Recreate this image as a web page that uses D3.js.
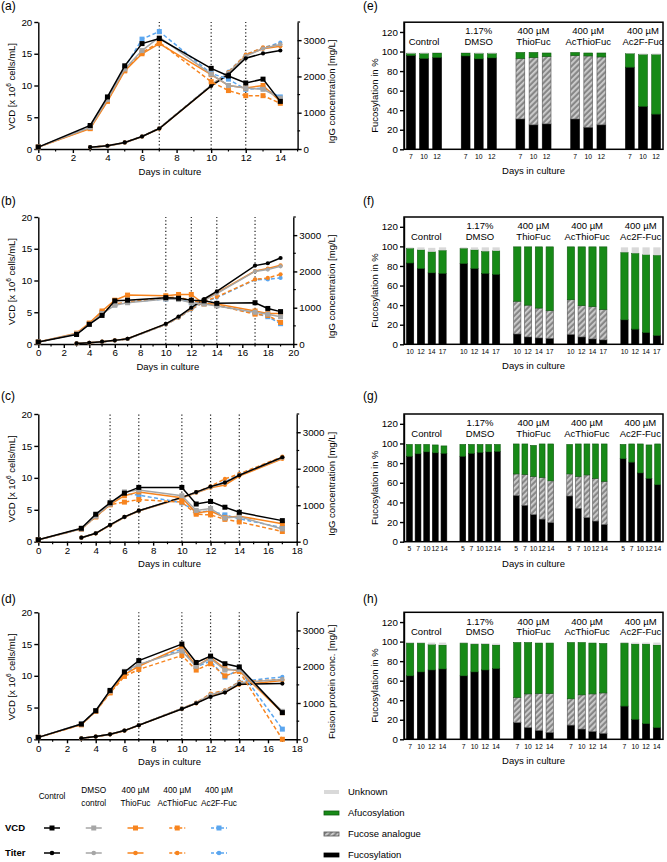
<!DOCTYPE html>
<html><head><meta charset="utf-8">
<script src="https://cdn.jsdelivr.net/npm/d3@7"></script>
<style>body{margin:0;background:#fff}svg{font-family:"Liberation Sans",Arial,sans-serif;display:block}</style>
</head><body><svg id="c" width="667" height="862"></svg>
<script>
// ---------- shared ----------
const treatments = ["Control","DMSO control","400 µM ThioFuc","400 µM AcThioFuc","400 µM Ac2F-Fuc"];
const legendHeaders = [["Control"],["DMSO","control"],["400 µM","ThioFuc"],["400 µM","AcThioFuc"],["400 µM","Ac2F-Fuc"]];
const groupLabels = [["Control"],["1.17%","DMSO"],["400 µM","ThioFuc"],["400 µM","AcThioFuc"],["400 µM","Ac2F-Fuc"]];
const seriesColors = ["#000000","#a6a6a6","#f7841e","#f7841e","#5ba6ef"];
const seriesDash = [null,null,null,"4,2.5","4,2.5"];
const segNames = ["Unknown","Afucosylation","Fucose analogue","Fucosylation"];

// ---------- panel (a) ----------
const aDays = [0,3,4,5,6,7,10,11,12,13,14];
const aTiterDays = [3,4,5,6,7,10,11,12,13,14];
const aVCD = [
  [0.3,3.7,8.2,13.1,16.6,17.4,12.7,11.5,10.4,11.0,7.5],
  [0.3,3.4,7.8,12.6,15.5,17.6,11.8,10.0,9.6,9.4,8.0],
  [0.3,3.2,7.5,12.3,15.0,16.6,11.7,10.0,9.6,10.0,7.5],
  [0.3,3.3,7.6,12.4,15.2,16.8,10.6,9.2,8.4,8.4,7.2],
  [0.3,3.5,7.9,12.8,17.3,18.5,11.9,11.0,9.4,9.6,8.2]];
const aTiter = [
  [50,90,180,345,565,1740,2050,2500,2635,2715],
  [50,85,175,340,570,1750,2100,2560,2770,2880],
  [45,85,175,340,560,1740,2080,2580,2760,2830],
  [50,90,180,345,570,1750,2120,2600,2800,2880],
  [50,90,180,350,575,1760,2130,2600,2790,2930]];
const aSampling = [7,10,12];

// ---------- panel (b) ----------
const bDays = [0,3,4,5,6,7,10,11,12,13,14,17,18,19];
const bTiterDays = [3,4,5,6,7,10,11,12,13,14,17,18,19];
const bVCD = [
  [0.3,1.5,3.1,4.5,6.8,6.9,7.3,7.2,6.9,6.8,6.4,6.5,5.6,5.1],
  [0.3,1.6,3.1,4.8,6.1,6.5,7.1,7.0,6.5,6.3,6.0,5.0,4.7,4.3],
  [0.3,1.7,3.3,5.2,6.9,7.7,7.6,7.8,7.8,6.3,6.3,5.2,4.8,4.8],
  [0.3,1.6,3.2,5.0,6.3,6.6,7.3,7.4,6.8,6.5,6.1,4.7,4.5,3.4],
  [0.3,1.6,3.1,4.9,6.2,6.6,7.1,7.1,6.5,6.4,6.1,4.8,4.3,3.2]];
const bTiter = [
  [15,35,65,100,145,555,755,1000,1240,1450,2160,2225,2370],
  [15,35,60,95,140,540,740,980,1200,1390,2000,2050,2140],
  [15,35,65,100,145,545,735,990,1220,1410,2010,2080,2170],
  [15,35,60,95,140,540,730,960,1170,1300,1780,1820,1920],
  [15,35,60,95,140,535,725,950,1150,1280,1770,1780,1820]];
const bSampling = [10,12,14,17];

// ---------- panel (c) ----------
const cDays = [0,3,4,5,6,7,10,11,12,13,14,17];
const cTiterDays = [3,4,5,6,7,10,11,12,13,14,17];
const cVCD = [
  [0.3,2.1,4.3,6.1,7.6,8.5,8.5,5.9,6.3,5.4,4.6,3.3],
  [0.3,2.0,4.0,5.9,7.8,8.1,7.2,4.9,5.2,3.7,3.9,2.0],
  [0.3,2.0,3.9,5.8,7.2,7.8,6.9,4.5,4.8,3.8,4.0,2.8],
  [0.3,2.0,3.9,5.8,6.2,6.6,6.2,4.3,4.2,3.5,3.1,1.6],
  [0.3,2.0,4.0,5.9,7.5,7.3,6.1,4.7,4.8,4.2,3.6,2.2]];
const cTiter = [
  [110,230,460,680,850,1215,1360,1510,1620,1820,2315],
  [110,230,455,675,845,1210,1350,1500,1610,1830,2300],
  [110,225,450,670,840,1200,1340,1480,1555,1800,2270],
  [110,230,455,680,850,1210,1360,1520,1720,1860,2330],
  [110,230,455,675,845,1205,1350,1500,1640,1850,2310]];
const cSampling = [5,7,10,12,14];

// ---------- panel (d) ----------
const dDays = [0,3,4,5,6,7,10,11,12,13,14,17];
const dTiterDays = [3,4,5,6,7,10,11,12,13,14,17];
const dVCD = [
  [0.3,2.4,4.5,7.7,10.6,12.4,15.0,12.1,13.1,11.9,11.4,4.2],
  [0.3,2.4,4.5,7.6,10.7,11.8,13.9,11.5,12.7,10.9,11.0,4.4],
  [0.3,2.3,4.4,7.4,10.2,11.5,14.6,11.5,12.9,11.1,10.8,4.2],
  [0.3,2.3,4.4,7.3,9.9,11.0,13.2,10.9,11.9,10.0,10.7,0.0],
  [0.3,2.4,4.5,7.6,10.5,11.7,14.2,11.4,12.3,9.8,11.0,1.6]];
const dTiter = [
  [28,74,138,240,386,837,994,1169,1288,1518,1537],
  [28,74,138,240,390,850,1000,1230,1330,1560,1650],
  [28,74,135,235,385,840,990,1200,1300,1500,1620],
  [28,74,138,240,390,850,1010,1260,1350,1580,1650],
  [28,74,138,240,390,850,1005,1240,1340,1590,1720]];
const dSampling = [7,10,12,14];

// ---------- panel (e) ----------
const eDays = [7,10,12];
const eFuc  = [[96,93,94],[95.5,92.5,93.5],[31,25,26],[31,22.5,25],[84,44,36]];
const eAna  = [[0,0,0],[0,0,0],[62,69,69],[65,73,69.5],[0,0,0]];
const eAfuc = [[2,5,4.5],[3,5.5,4.5],[6,5,3.5],[3,3,4],[14,53,61]];
const eUnk  = [[1,1,1],[1,1,1],[0,0,0],[0,0,0],[0.5,1,1]];

// ---------- panel (f) ----------
const fDays = [10,12,14,17];
const fFuc  = [[83,77.5,73,72.5],[82.5,77.5,72.5,71.5],[10.5,7.5,6.5,6],[10,7.5,5.5,4.5],[25,15.5,12,9]];
const fAna  = [[0,0,0,0],[0,0,0,0],[33.5,32.5,30.5,28.5],[35.5,32,33,31],[0,0,0,0]];
const fAfuc = [[15,19,21.5,23.5],[15.5,19,22.5,24],[55.5,59.5,62.5,65],[54,60,61,64],[69,77.5,79.5,82]];
const fUnk  = [[1,2.5,4,3],[1,2.5,4,3.5],[0,0,0,0],[0,0,0,0],[5,6,7.5,8]];

// ---------- panel (g) ----------
const gDays = [5,7,10,12,14];
const gFuc  = [[87,89.5,91.5,90.5,90],[87,90,91,91.5,92],[47,37,27.5,23,19.5],[46.5,34,24.5,21,17.5],[84.5,81,70,64.5,58]];
const gAna  = [[0,0,0,0,0],[0,0,0,0,0],[22,31.5,39,42.5,42.5],[22.5,32.5,43.5,43.5,44],[0,0,0,0,0]];
const gAfuc = [[12,9.5,7.5,8,7.5],[12,9,8,7.5,7],[30.5,31,31.5,34,37.5],[30,33,31.5,35,38],[14.5,18.5,29.5,34,41.5]];
const gUnk  = [[0,0,0,0,0],[0,0,0,0,0],[0,0,0,0,0],[0,0,0,0,0],[0,0,0,0,0]];

// ---------- panel (h) ----------
const hDays = [7,10,12,14];
const hFuc  = [[65,69,71,72],[65,69,71,72.5],[17,12,9,7],[14.5,10.5,8,6],[34,20.5,16,12]];
const hAna  = [[0,0,0,0],[0,0,0,0],[26,34.5,38,40],[27,35,38.5,41.5],[0,0,0,0]];
const hAfuc = [[33.5,29.5,26,24.5],[33.5,28.5,26.5,24],[56,52.5,51.5,51.5],[57.5,53.5,52,50.5],[64.5,77,81.5,84.5]];
const hUnk  = [[1,1,2,2.5],[0.5,1,1,1.5],[0,0,0,0],[0,0,0,0],[0.5,1.5,1.5,2.5]];

// =====================================================
const svg = d3.select("#c");
const defs = svg.append("defs");
const pat = defs.append("pattern").attr("id","hatch").attr("patternUnits","userSpaceOnUse")
  .attr("width",4).attr("height",4).attr("patternTransform","rotate(45)");
pat.append("rect").attr("width",4).attr("height",4).attr("fill","#878787");
pat.append("rect").attr("width",1.8).attr("height",4).attr("fill","#cfcfcf");

const segFill = {"Unknown":"#d9d9d9","Afucosylation":"#178a17","Fucose analogue":"url(#hatch)","Fucosylation":"#000"};
const segStroke = {"Unknown":"none","Afucosylation":"#0d5a0d","Fucose analogue":"#555","Fucosylation":"#000"};

function styleAxis(g, fs){
  g.selectAll("path,line").attr("stroke","#000").attr("stroke-width",1.4);
  g.selectAll("text").attr("font-size",fs).attr("fill","#000").attr("font-family","Liberation Sans, Arial, sans-serif");
}
const fmt = d3.format("d");

function linePanel(cfg){
  const L = 38.3;
  const x = d3.scaleLinear().domain([0,cfg.xmax]).range([L,cfg.right]);
  const y = d3.scaleLinear().domain([0,20]).range([cfg.bottom,cfg.top]);
  const y2 = d3.scaleLinear().domain([0,3500]).range([cfg.bottom,cfg.top]);
  const g = svg.append("g");
  g.append("text").attr("x",1).attr("y",cfg.labelY).attr("dominant-baseline","middle").attr("font-size",12).text(cfg.label);
  g.selectAll(".samp").data(cfg.sampling).enter().append("line")
    .attr("x1",d=>x(d)).attr("x2",d=>x(d)).attr("y1",y(0)).attr("y2",y(20))
    .attr("stroke","#222").attr("stroke-width",1.2).attr("stroke-dasharray","1.3,2.2");
  const evens = d3.range(0,cfg.xmax+1,2);
  const ax = g.append("g").attr("transform",`translate(0,${cfg.bottom})`)
    .call(d3.axisBottom(x).tickValues(evens).tickFormat(fmt).tickSize(4).tickSizeOuter(0).tickPadding(1.5));
  styleAxis(ax,9.8);
  const odds = d3.range(1,cfg.xmax+1,2);
  g.selectAll(".minx").data(odds).enter().append("line").attr("x1",d=>x(d)).attr("x2",d=>x(d))
    .attr("y1",cfg.bottom).attr("y2",cfg.bottom+2.5).attr("stroke","#000").attr("stroke-width",1.2);
  const ay = g.append("g").attr("transform",`translate(${L},0)`)
    .call(d3.axisLeft(y).tickValues([0,5,10,15,20]).tickFormat(fmt).tickSize(4).tickSizeOuter(0).tickPadding(2));
  styleAxis(ay,9.8);
  const ay2 = g.append("g").attr("transform",`translate(${cfg.right},0)`)
    .call(d3.axisRight(y2).tickValues([0,1000,2000,3000]).tickFormat(fmt).tickSize(4).tickSizeOuter(0).tickPadding(2));
  styleAxis(ay2,9.8);
  g.selectAll(".miny2").data([500,1500,2500,3500]).enter().append("line").attr("x1",cfg.right).attr("x2",cfg.right+2.5)
    .attr("y1",d=>y2(d)).attr("y2",d=>y2(d)).attr("stroke","#000").attr("stroke-width",1.2);
  g.append("text").attr("x",(L+cfg.right)/2+2).attr("y",cfg.bottom+25.5).attr("text-anchor","middle")
    .attr("font-size",9.5).text("Days in culture");
  const lt = g.append("text").attr("transform",`translate(12,${(cfg.top+cfg.bottom)/2+1}) rotate(-90)`)
    .attr("text-anchor","middle").attr("dominant-baseline","middle").attr("font-size",9.5);
  lt.append("tspan").text("VCD [x 10");
  lt.append("tspan").attr("font-size",6.5).attr("dy",-3.5).text("6");
  lt.append("tspan").attr("dy",3.5).text(" cells/mL]");
  g.append("text").attr("transform",`translate(332,${(cfg.top+cfg.bottom)/2+6}) rotate(-90)`)
    .attr("text-anchor","middle").attr("dominant-baseline","middle").attr("font-size",9.5).text(cfg.rightTitle);
  const order = [4,3,2,1,0];
  const lineV = d3.line().x(d=>x(d[0])).y(d=>y(d[1]));
  const lineT = d3.line().x(d=>x(d[0])).y(d=>y2(d[1]));
  order.forEach(i=>{
    const vt = cfg.titerDays.map((dd,k)=>[dd,cfg.titer[i][k]]);
    g.append("path").attr("d",lineT(vt)).attr("fill","none").attr("stroke",seriesColors[i])
      .attr("stroke-width",1.5).attr("stroke-dasharray",seriesDash[i]);
    g.selectAll(null).data(vt).enter().append("circle").attr("cx",d=>x(d[0])).attr("cy",d=>y2(d[1]))
      .attr("r",2.1).attr("fill",seriesColors[i]);
  });
  order.forEach(i=>{
    const vv = cfg.days.map((dd,k)=>[dd,cfg.vcd[i][k]]);
    g.append("path").attr("d",lineV(vv)).attr("fill","none").attr("stroke",seriesColors[i])
      .attr("stroke-width",1.5).attr("stroke-dasharray",seriesDash[i]);
    g.selectAll(null).data(vv).enter().append("rect").attr("x",d=>x(d[0])-2.5).attr("y",d=>y(d[1])-2.5)
      .attr("width",5).attr("height",5).attr("fill",seriesColors[i]);
  });
}

linePanel({label:"(a)",labelY:7,top:22,bottom:149,xmax:15,right:297.6,days:aDays,titerDays:aTiterDays,vcd:aVCD,titer:aTiter,sampling:aSampling,rightTitle:"IgG concentration [mg/L]"});
linePanel({label:"(b)",labelY:202,top:217,bottom:344,xmax:20,right:293.3,days:bDays,titerDays:bTiterDays,vcd:bVCD,titer:bTiter,sampling:bSampling,rightTitle:"IgG concentration [mg/L]"});
linePanel({label:"(c)",labelY:397,top:414,bottom:541.7,xmax:18,right:296.7,days:cDays,titerDays:cTiterDays,vcd:cVCD,titer:cTiter,sampling:cSampling,rightTitle:"IgG concentration [mg/L]"});
linePanel({label:"(d)",labelY:600,top:612.3,bottom:739.3,xmax:18,right:296.7,days:dDays,titerDays:dTiterDays,vcd:dVCD,titer:dTiter,sampling:dSampling,rightTitle:"Fusion protein conc. [mg/L]"});

function barPanel(cfg){
  const L = 404, R = 663;
  const y = d3.scaleLinear().domain([0,130]).range([cfg.bottom,cfg.top]);
  const x0 = d3.scaleBand().domain(d3.range(5)).range([406.5,660.5]).paddingInner(cfg.pad).paddingOuter(0);
  const x1 = d3.scaleBand().domain(cfg.days).range([0,x0.bandwidth()]).paddingInner(0.33).paddingOuter(0);
  const g = svg.append("g");
  g.append("text").attr("x",363).attr("y",cfg.labelY).attr("dominant-baseline","middle").attr("font-size",12).text(cfg.label);
  for(let gi=0; gi<5; gi++){
    cfg.days.forEach((dd,k)=>{
      const segs = [["Fucosylation",cfg.fuc[gi][k]],["Fucose analogue",cfg.ana[gi][k]],["Afucosylation",cfg.afuc[gi][k]],["Unknown",cfg.unk[gi][k]]];
      let acc = 0;
      segs.forEach(([nm,v])=>{
        if(v<=0) return;
        g.append("rect").attr("x",x0(gi)+x1(dd)).attr("width",x1.bandwidth())
          .attr("y",y(acc+v)).attr("height",y(acc)-y(acc+v))
          .attr("fill",segFill[nm]).attr("stroke",segStroke[nm]).attr("stroke-width",0.6);
        acc += v;
      });
      g.append("text").attr("x",x0(gi)+x1(dd)+x1.bandwidth()/2).attr("y",cfg.bottom+8)
        .attr("text-anchor","middle").attr("dominant-baseline","middle").attr("font-size",6.8).text(dd);
    });
    const lines = groupLabels[gi];
    const cx = x0(gi)+x0.bandwidth()/2;
    lines.forEach((t,li)=>{
      const yy = lines.length===1 ? y(120)+10.5 : y(120)+li*10.5;
      g.append("text").attr("x",cx).attr("y",yy).attr("text-anchor","middle").attr("dominant-baseline","middle")
        .attr("font-size",9.5).text(t);
    });
  }
  const ay = g.append("g").attr("transform",`translate(${L},0)`)
    .call(d3.axisLeft(y).tickValues([0,20,40,60,80,100,120]).tickFormat(fmt).tickSize(4).tickSizeOuter(0).tickPadding(2));
  styleAxis(ay,9.8);
  g.append("rect").attr("x",L).attr("y",cfg.top).attr("width",R-L).attr("height",cfg.bottom-cfg.top)
    .attr("fill","none").attr("stroke","#000").attr("stroke-width",1.5);
  g.append("text").attr("x",(L+R)/2).attr("y",cfg.bottom+25).attr("text-anchor","middle").attr("font-size",9.5).text("Days in culture");
  g.append("text").attr("transform",`translate(375,${y(55)}) rotate(-90)`).attr("text-anchor","middle")
    .attr("dominant-baseline","middle").attr("font-size",9.5).text("Fucosylation in %");
}

barPanel({label:"(e)",labelY:7,top:22.2,bottom:149.3,pad:0.36,days:eDays,fuc:eFuc,ana:eAna,afuc:eAfuc,unk:eUnk});
barPanel({label:"(f)",labelY:202,top:217,bottom:344.3,pad:0.26,days:fDays,fuc:fFuc,ana:fAna,afuc:fAfuc,unk:fUnk});
barPanel({label:"(g)",labelY:397,top:414,bottom:541.7,pad:0.245,days:gDays,fuc:gFuc,ana:gAna,afuc:gAfuc,unk:gUnk});
barPanel({label:"(h)",labelY:600,top:612.3,bottom:739.3,pad:0.26,days:hDays,fuc:hFuc,ana:hAna,afuc:hAfuc,unk:hUnk});

// ---------- legends ----------
const lg = svg.append("g");
const legX = d3.scalePoint().domain(d3.range(5)).range([52,219]);
legendHeaders.forEach((lines,i)=>{
  lines.forEach((t,li)=>{
    const yy = lines.length===1 ? 797 : 791+li*13;
    lg.append("text").attr("x",legX(i)).attr("y",yy).attr("text-anchor","middle").attr("dominant-baseline","middle")
      .attr("font-size",8.3).text(t);
  });
  [["VCD",828],["Titer",853]].forEach(([kind,yy])=>{
    const cx = legX(i);
    lg.append("line").attr("x1",cx-8).attr("x2",cx+8).attr("y1",yy).attr("y2",yy)
      .attr("stroke",seriesColors[i]).attr("stroke-width",1.5).attr("stroke-dasharray",seriesDash[i]?"3,2":null);
    if(kind==="VCD") lg.append("rect").attr("x",cx-2.5).attr("y",yy-2.5).attr("width",5).attr("height",5).attr("fill",seriesColors[i]);
    else lg.append("circle").attr("cx",cx).attr("cy",yy).attr("r",2.3).attr("fill",seriesColors[i]);
  });
});
lg.append("text").attr("x",5).attr("y",828).attr("dominant-baseline","middle").attr("font-size",9.5).attr("font-weight","bold").text("VCD");
lg.append("text").attr("x",5).attr("y",853).attr("dominant-baseline","middle").attr("font-size",9.5).attr("font-weight","bold").text("Titer");

const segY = d3.scalePoint().domain(segNames).range([792,855]);
segNames.forEach(nm=>{
  lg.append("rect").attr("x",324).attr("y",segY(nm)-2).attr("width",15).attr("height",4)
    .attr("fill",segFill[nm]).attr("stroke",segStroke[nm]).attr("stroke-width",0.8);
  lg.append("text").attr("x",348).attr("y",segY(nm)).attr("dominant-baseline","middle").attr("font-size",9.5).text(nm);
});
</script></body></html>
